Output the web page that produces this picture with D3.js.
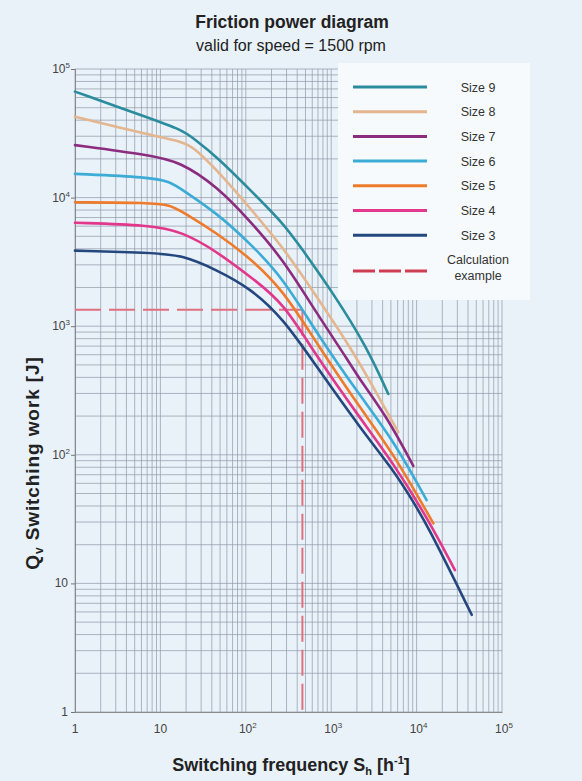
<!DOCTYPE html>
<html><head><meta charset="utf-8">
<script src="https://cdn.jsdelivr.net/npm/d3@7"></script>
<style>
html,body{margin:0;padding:0;background:#e9f1f9;}
svg{display:block;font-family:"Liberation Sans",Arial,Helvetica,sans-serif;}
</style></head>
<body>
<svg id="chart" width="582" height="781"></svg>
<script>
// ---- data ----
const seriesNames = ["Size 9","Size 8","Size 7","Size 6","Size 5","Size 4","Size 3"];
const seriesColors = ["#2a8c9c","#e4b68f","#8c2c7f","#3cabd6","#ee7b2c","#e2378a","#24477e"];
// [switching frequency S_h, switching work Q_v]
const size9 = [[1,66700],[7.5,41400],[18,33500],[24,29100],[46,20700],[112,11500],[273,6340],[430,4200],[1060,1800],[2600,693],[4660,297]];
const size8 = [[1,42600],[7.5,30700],[18,27200],[24,24900],[46,16400],[112,8300],[274,4100],[676,1700],[1660,693],[3100,338],[6100,150]];
const size7 = [[1,25600],[7.5,21400],[17,19000],[46,12200],[112,6580],[274,3300],[676,1260],[1660,515],[2175,382],[4490,198],[9150,82]];
const size6 = [[1,15300],[7.5,14400],[13,13300],[18,11500],[46,7550],[112,4410],[274,2370],[676,881],[2175,287],[5340,130],[13100,44.5]];
const size5 = [[1,9190],[7.5,9120],[13,8750],[18,7770],[46,5280],[112,3390],[274,1910],[676,736],[2175,231],[5340,103],[15700,29.3]];
const size4 = [[1,6380],[7.5,6120],[18,5430],[46,3800],[112,2430],[274,1540],[676,579],[2175,193],[5340,86],[13100,33],[28100,12.7]];
const size3 = [[1,3870],[7.5,3730],[18,3580],[46,2730],[112,1980],[274,1150],[676,484],[2175,162],[5340,76],[8420,47],[13100,29.3],[44200,5.7]];
const seriesData = [size9,size8,size7,size6,size5,size4,size3];
const calcExample = {S: 460, Q: 1340};
const xTickValues = [1,10,100,1000,10000,100000];
const yTickValues = [1,10,100,1000,10000,100000];
const xTickLabels = [["1",""],["10",""],["10","2"],["10","3"],["10","4"],["10","5"]];
const yTickLabels = [["1",""],["10",""],["10","2"],["10","3"],["10","4"],["10","5"]];
const legendLabels = ["Size 9","Size 8","Size 7","Size 6","Size 5","Size 4","Size 3"];

// ---- layout ----
const svg = d3.select("#chart");
const L = 75, R = 502, T = 69, B = 712;
const x = d3.scaleLog().domain([1,1e5]).range([L,R]);
const y = d3.scaleLog().domain([1,1e5]).range([B,T]);

svg.append("rect").attr("width",582).attr("height",781).attr("fill","#e9f1f9");

// titles
svg.append("text").attr("x",292).attr("y",28).attr("text-anchor","middle")
  .attr("font-size",17.5).attr("font-weight","bold").attr("fill","#222").text("Friction power diagram");
svg.append("text").attr("x",291).attr("y",51).attr("text-anchor","middle")
  .attr("font-size",16).attr("fill","#222").text("valid for speed = 1500 rpm");

// grid
const minor = [];
for (let d=0; d<5; d++) for (let k=1; k<10; k++) minor.push(k*Math.pow(10,d));
minor.push(1e5);
const g = svg.append("g");
g.selectAll("line.v").data(minor).join("line")
  .attr("x1",d=>x(d)).attr("x2",d=>x(d)).attr("y1",T).attr("y2",B)
  .attr("stroke","#8f9aa6").attr("stroke-width",0.7);
g.selectAll("line.h").data(minor).join("line")
  .attr("y1",d=>y(d)).attr("y2",d=>y(d)).attr("x1",L).attr("x2",R)
  .attr("stroke","#8f9aa6").attr("stroke-width",0.7);

// axes
const xAxis = d3.axisBottom(x).tickValues(xTickValues).tickSize(0).tickFormat("");
const yAxis = d3.axisLeft(y).tickValues(yTickValues).tickSize(4).tickFormat("");
svg.append("g").attr("transform",`translate(0,${B})`).call(xAxis)
  .call(a=>a.select(".domain").attr("stroke","#777").attr("stroke-width",0.8));
svg.append("g").attr("transform",`translate(${L},0)`).call(yAxis)
  .call(a=>a.select(".domain").attr("stroke","#777").attr("stroke-width",0.8))
  .call(a=>a.selectAll(".tick line").attr("stroke","#777"));

// tick labels
xTickValues.forEach((v,i)=>{
  const t = svg.append("text").attr("x",x(v)+(xTickLabels[i][1]?2:0)).attr("y",733)
    .attr("text-anchor","middle").attr("font-size",12).attr("fill","#444");
  t.append("tspan").text(xTickLabels[i][0]);
  if (xTickLabels[i][1]) t.append("tspan").attr("dy",-5).attr("font-size",8).text(xTickLabels[i][1]);
});
yTickValues.forEach((v,i)=>{
  const t = svg.append("text").attr("x",i===0?68:(yTickLabels[i][1]?70:68)).attr("y",y(v)+4)
    .attr("text-anchor","end").attr("font-size",12).attr("fill","#444");
  t.append("tspan").text(yTickLabels[i][0]);
  if (yTickLabels[i][1]) t.append("tspan").attr("dy",-5).attr("font-size",8).text(yTickLabels[i][1]);
});

// axis titles
const xt = svg.append("text").attr("x",291).attr("y",771).attr("text-anchor","middle")
  .attr("font-size",18).attr("font-weight","bold").attr("fill","#222");
xt.append("tspan").text("Switching frequency S");
xt.append("tspan").attr("dy",4).attr("font-size",11).text("h");
xt.append("tspan").attr("dy",-4).text(" [h");
xt.append("tspan").attr("dy",-7).attr("font-size",11).text("-1");
xt.append("tspan").attr("dy",7).text("]");

const yt = svg.append("text").attr("transform","translate(39,463) rotate(-90)").attr("text-anchor","middle")
  .attr("font-size",19).attr("font-weight","bold").attr("letter-spacing",0.9).attr("fill","#222");
yt.append("tspan").text("Q");
yt.append("tspan").attr("dy",4).attr("font-size",12).text("v");
yt.append("tspan").attr("dy",-4).text(" Switching work [J]");

// legend box (covers grid)
svg.append("rect").attr("x",338).attr("y",63).attr("width",192).attr("height",237)
  .attr("fill","#f7fafd");

// calculation example dashed lines
const dash = svg.append("g").attr("stroke","#e0707f").attr("stroke-width",2).attr("fill","none")
  .attr("stroke-dasharray","26,8");
dash.append("line").attr("x1",x(1)).attr("x2",x(calcExample.S)).attr("y1",y(calcExample.Q)).attr("y2",y(calcExample.Q));
dash.append("line").attr("x1",x(calcExample.S)).attr("x2",x(calcExample.S)).attr("y1",y(calcExample.Q)).attr("y2",y(1));

// curves
const line = d3.line().x(d=>x(d[0])).y(d=>y(d[1])).curve(d3.curveBasis);
seriesData.forEach((s,i)=>{
  svg.append("path").datum(s).attr("d",line).attr("fill","none")
    .attr("stroke",seriesColors[i]).attr("stroke-width",2.6).attr("stroke-linecap","round");
});

// legend
const lg = svg.append("g");
legendLabels.forEach((name,i)=>{
  const yy = 87 + i*24.7;
  lg.append("line").attr("x1",353).attr("x2",427).attr("y1",yy).attr("y2",yy)
    .attr("stroke",seriesColors[i]).attr("stroke-width",3);
  lg.append("text").attr("x",478).attr("y",yy+4.5).attr("text-anchor","middle")
    .attr("font-size",12.5).attr("fill","#333").text(name);
});
lg.append("line").attr("x1",353).attr("x2",428).attr("y1",271).attr("y2",271)
  .attr("stroke","#cf3d50").attr("stroke-width",3).attr("stroke-dasharray","22,4");
lg.append("text").attr("x",478).attr("y",264).attr("text-anchor","middle")
  .attr("font-size",12.5).attr("fill","#333").text("Calculation");
lg.append("text").attr("x",478).attr("y",280).attr("text-anchor","middle")
  .attr("font-size",12.5).attr("fill","#333").text("example");
</script>
</body></html>
